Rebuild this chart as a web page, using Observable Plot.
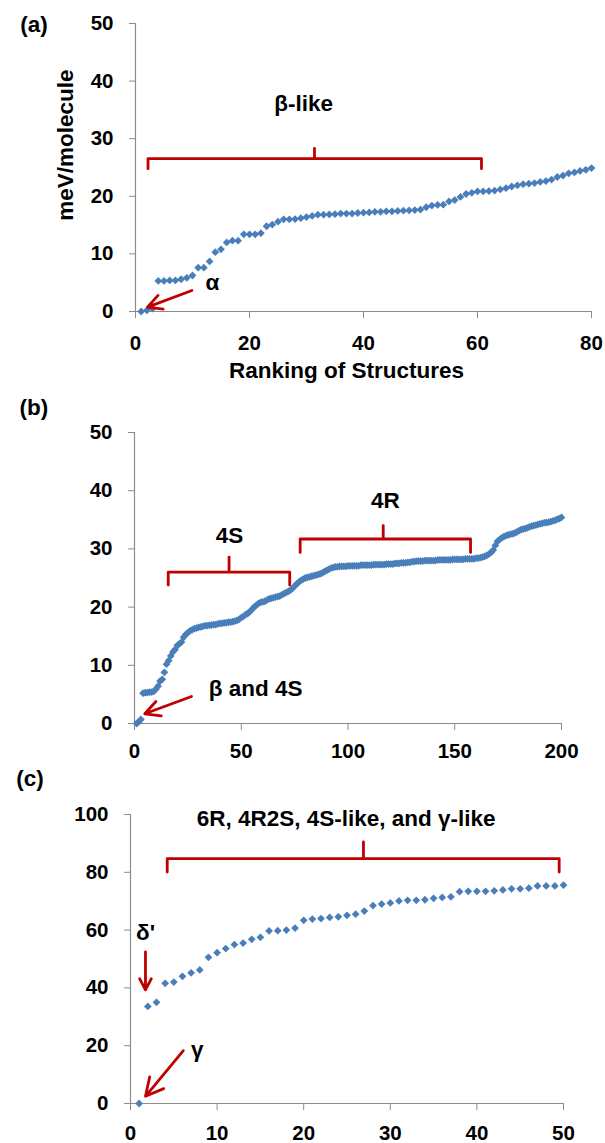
<!DOCTYPE html>
<html>
<head>
<meta charset="utf-8">
<script src="https://cdn.jsdelivr.net/npm/d3@7"></script>
<script src="https://cdn.jsdelivr.net/npm/@observablehq/plot@0.6"></script>
<style>
  html, body { margin: 0; padding: 0; background: #fff; }
  #chart svg { display: block; }
</style>
</head>
<body>
<div id="chart"></div>
<script>
// ---------- data (meV/molecule, ordered by rank 1..N) ----------
const energiesA = [
  0, 0.2, 0.5, 5.3, 5.3, 5.4, 5.4, 5.6, 5.85, 6.25,
  7.6, 7.6, 8.7, 10.3, 10.8, 12.0, 12.3, 12.3, 13.4, 13.4,
  13.4, 13.6, 14.8, 15.1, 15.6, 16.0, 16.0, 16.05, 16.2, 16.4,
  16.6, 16.8, 16.8, 16.85, 16.9, 17.0, 17.0, 17.0, 17.1, 17.15,
  17.2, 17.3, 17.3, 17.4, 17.4, 17.45, 17.5, 17.55, 17.6, 17.7,
  18.1, 18.4, 18.5, 18.55, 19.1, 19.35, 19.9, 20.4, 20.6, 20.85,
  20.85, 20.9, 21.0, 21.2, 21.4, 21.7, 21.9, 22.1, 22.2, 22.3,
  22.5, 22.65, 22.9, 23.35, 23.6, 24.0, 24.15, 24.4, 24.6, 24.9
];
const energiesB = [
  0, 0.3, 0.7, 5.2, 5.3, 5.3, 5.4, 5.4, 5.5, 5.9,
  6.4, 7.3, 7.6, 8.8, 10.2, 10.8, 11.6, 12.3, 12.7, 13.4,
  13.7, 14.0, 14.8, 15.3, 15.6, 15.9, 16.1, 16.3, 16.4, 16.5,
  16.6, 16.7, 16.8, 16.8, 16.9, 16.9, 17.0, 17.0, 17.1, 17.2,
  17.2, 17.3, 17.3, 17.4, 17.4, 17.5, 17.6, 17.7, 17.9, 18.2,
  18.4, 18.7, 18.9, 19.2, 19.6, 20.0, 20.3, 20.6, 20.8, 20.9,
  21.0, 21.2, 21.4, 21.5, 21.6, 21.7, 21.8, 21.9, 22.1, 22.3,
  22.5, 22.7, 22.9, 23.2, 23.6, 24.0, 24.3, 24.6, 24.8, 25.0,
  25.1, 25.2, 25.3, 25.4, 25.5, 25.6, 25.7, 25.9, 26.1, 26.3,
  26.5, 26.7, 26.8, 26.9, 26.9, 27.0, 27.0, 27.0, 27.0, 27.1,
  27.1, 27.1, 27.1, 27.1, 27.1, 27.2, 27.2, 27.2, 27.2, 27.2,
  27.2, 27.3, 27.3, 27.3, 27.3, 27.3, 27.3, 27.4, 27.4, 27.4,
  27.4, 27.5, 27.5, 27.5, 27.6, 27.6, 27.6, 27.7, 27.7, 27.8,
  27.8, 27.9, 27.9, 27.9, 27.9, 28.0, 28.0, 28.0, 28.0, 28.0,
  28.0, 28.1, 28.1, 28.1, 28.1, 28.1, 28.1, 28.1, 28.2, 28.2,
  28.2, 28.2, 28.2, 28.2, 28.3, 28.3, 28.3, 28.3, 28.3, 28.4,
  28.4, 28.5, 28.6, 28.7, 28.9, 29.1, 29.4, 29.8, 30.6, 31.3,
  31.6, 31.9, 32.1, 32.3, 32.4, 32.5, 32.6, 32.7, 32.9, 33.1,
  33.3, 33.4, 33.5, 33.6, 33.8, 33.9, 34.0, 34.1, 34.2, 34.3,
  34.4, 34.5, 34.5, 34.6, 34.7, 34.8, 34.9, 35.1, 35.2, 35.4
];
const energiesC = [
  0, 33.6, 35.0, 41.6, 42.0, 44.0, 45.2, 46.2, 50.6, 52.2,
  53.6, 55.0, 55.5, 56.8, 57.5, 59.7, 59.8, 60.0, 60.7, 63.4,
  63.8, 64.0, 64.4, 64.6, 65.1, 65.5, 66.6, 68.5, 69.0, 69.4,
  70.1, 70.3, 70.3, 70.5, 71.0, 71.3, 71.5, 73.3, 73.4, 73.4,
  73.4, 73.6, 73.9, 74.3, 74.3, 74.5, 75.3, 75.3, 75.3, 75.6
];

// tick labels
const ticksAx = [0, 20, 40, 60, 80];
const ticksAy = [0, 10, 20, 30, 40, 50];
const ticksBx = [0, 50, 100, 150, 200];
const ticksBy = [0, 10, 20, 30, 40, 50];
const ticksCx = [0, 10, 20, 30, 40, 50];
const ticksCy = [0, 20, 40, 60, 80, 100];

// texts
const panelLabels = ["(a)", "(b)", "(c)"];
const yTitle = "meV/molecule";
const xTitle = "Ranking of Structures";

// ---------- styling ----------
const FONT = "'Liberation Sans', Arial, Helvetica, sans-serif";
const BLUE = "#4a7ebb";
const RED = "#c00000";
const AXIS = "#8c8c8c";

function bracket(L, M, R, yH, yEnd, yTip) {
  return Plot.line(
    [[L, yEnd], [L, yH], [M, yH], [M, yTip], [M, yH], [R, yH], [R, yEnd]],
    {x: d => d[0], y: d => d[1], stroke: RED, strokeWidth: 2.8, strokeLinejoin: "round", curve: "linear"}
  );
}
function label(x, y, text, opts = {}) {
  return Plot.text([{x, y, text}], {x: "x", y: "y", text: "text", fontSize: 22.5, fontWeight: "bold", fill: "black", ...opts});
}
function arrow(x1, y1, x2, y2) {
  return Plot.arrow([{x1, y1, x2, y2}], {x1: "x1", y1: "y1", x2: "x2", y2: "y2", stroke: RED, strokeWidth: 2.8, headLength: 12, headAngle: 55});
}

function panel({values, xDomain, yDomain, xTicks, yTicks, height, marginTop, marginBottom, marginLeft, marginRight, xPad, extra}) {
  return Plot.plot({
    width: 605, height, marginTop, marginBottom, marginLeft, marginRight,
    style: {fontFamily: FONT, fontSize: "20px", fontWeight: "bold", background: "white", color: "black", overflow: "visible"},
    x: {domain: xDomain},
    y: {domain: yDomain},
    marks: [
      Plot.ruleX([xDomain[0]], {stroke: AXIS, strokeWidth: 1.2}),
      Plot.ruleY([yDomain[0]], {stroke: AXIS, strokeWidth: 1.2}),
      Plot.axisX({ticks: xTicks, tickSize: 7, tickPadding: xPad, stroke: AXIS, fill: "black", label: null, fontSize: 20.5, fontWeight: "bold"}),
      Plot.axisY({ticks: yTicks, tickSize: 6, tickPadding: 16, stroke: AXIS, fill: "black", label: null, fontSize: 20.5, fontWeight: "bold"}),
      Plot.dot(values, {x: (d, i) => i + 1, y: d => d, symbol: "diamond2", r: 3.5, fill: BLUE, stroke: null}),
      ...extra
    ]
  });
}

const chart = document.getElementById("chart");

// (a)
chart.append(panel({
  values: energiesA, xDomain: [0, 80], yDomain: [0, 50], xTicks: ticksAx, yTicks: ticksAy,
  height: 395, marginTop: 23, marginBottom: 84, marginLeft: 135, marginRight: 14, xPad: 17,
  extra: [
    bracket(2.2, 31.4, 60.7, 26.55, 24.8, 28.3),
    label(29.5, 36.1, "β-like"),
    label(13.5, 4.9, "α"),
    arrow(9.9, 3.65, 2.1, 0.75),
    label(-20.2, 49.7, panelLabels[0], {textAnchor: "start"}),
    label(-12.3, 28.9, yTitle, {rotate: -90}),
    label(37.0, -10.3, xTitle)
  ]
}));

// (b)
chart.append(panel({
  values: energiesB, xDomain: [0, 200], yDomain: [0, 50], xTicks: ticksBx, yTicks: ticksBy,
  height: 370, marginTop: 37, marginBottom: 42, marginLeft: 134, marginRight: 44, xPad: 13,
  extra: [
    bracket(15.8, 44.3, 72.7, 26.0, 23.8, 28.6),
    label(44.5, 32.3, "4S"),
    bracket(77.6, 116.5, 157.4, 31.7, 29.4, 34.0),
    label(117.5, 38.3, "4R"),
    label(34.8, 6.0, "β and 4S", {textAnchor: "start"}),
    arrow(26.7, 4.64, 4.8, 1.67),
    label(-53.9, 54.3, panelLabels[1], {textAnchor: "start"})
  ]
}));

// (c)
chart.append(panel({
  values: energiesC, xDomain: [0, 50], yDomain: [0, 100], xTicks: ticksCx, yTicks: ticksCy,
  height: 378, marginTop: 49, marginBottom: 40, marginLeft: 130, marginRight: 42, xPad: 15,
  extra: [
    bracket(4.24, 26.9, 49.5, 84.7, 80.1, 90.5),
    label(24.9, 98.5, "6R, 4R2S, 4S-like, and γ-like"),
    label(1.73, 58.9, "δ'"),
    arrow(1.73, 52.5, 1.73, 39.3),
    label(7.7, 18.6, "γ"),
    arrow(6.1, 18.3, 1.73, 2.5),
    label(-13.2, 112.5, panelLabels[2], {textAnchor: "start"})
  ]
}));
</script>
</body>
</html>
